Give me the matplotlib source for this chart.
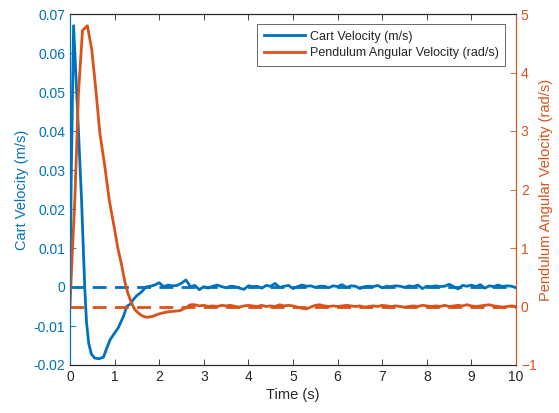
import numpy as np
import matplotlib
matplotlib.use("Agg")
import matplotlib.pyplot as plt

plt.rcParams["font.family"] = ["Liberation Sans", "DejaVu Sans"]

BLUE = "#0072BD"
ORANGE = "#D95319"
DARK = "#262626"

# --- cart velocity (m/s): transient, then sampled every 0.1 s from 1.8 s ---
cart_t_transient = [0.0, 0.03, 0.08, 0.17, 0.26, 0.33, 0.37, 0.42, 0.48, 0.55, 0.65,
                    0.75, 0.82, 0.9, 1.0, 1.08, 1.2, 1.27, 1.35, 1.42, 1.5, 1.6, 1.7]
cart_v_transient = [0.0, 0.03, 0.067, 0.045, 0.022, 0.0, -0.009, -0.0145, -0.0172, -0.0182,
                    -0.0184, -0.018, -0.0158, -0.0135, -0.0118, -0.0105, -0.0075, -0.005,
                    -0.0044, -0.0032, -0.0022, -0.0013, 0.0]
cart_noise_e3 = [0.2, 0.5, 1.1, 0.1, 0.5, 0.3, 0.4, 1.0, 1.8, 0.1, 0.4, -0.7, 0.1, -0.3,
                 0.2, 0.5, 0.1, -0.2, 0.2, 0.1, -0.3, -0.6, 0.3, 0.1, 0.2, -0.3, 0.4, 0.2,
                 0.9, -0.1, 0.2, 0.4, -0.4, 0.1, 0.5, 0.2, 0.3, -0.1, 0.2, 0.2, -0.2, 0.3,
                 0.1, 0.6, -0.1, 0.3, 0.2, -0.4, 0.1, 0.2, 0.1, 0.4, -0.2, 0.2, 0.1, 0.3,
                 0.2, -0.1, 0.3, 0.1, 0.5, -0.4, 0.2, 0.1, 0.3, 0.1, 0.2, 0.7, 0.1, -0.5,
                 0.4, 0.2, 0.5, 0.1, 0.6, -0.3, 0.3, 0.1, 0.5, 0.1, 0.3, 0.2, -0.2]

# --- pendulum angular velocity (rad/s): transient, then every 0.1 s from 2.8 s ---
pend_t_transient = [0.0, 0.05, 0.11, 0.19, 0.28, 0.39, 0.49, 0.58, 0.67, 0.78, 0.88, 0.98,
                    1.08, 1.16, 1.23, 1.3, 1.38, 1.45, 1.53, 1.62, 1.72, 1.85, 2.02, 2.2,
                    2.35, 2.47, 2.6, 2.7]
pend_w_transient = [0.0, 0.9, 1.85, 3.65, 4.72, 4.8, 4.38, 3.7, 2.96, 2.4, 1.82, 1.4, 0.97,
                    0.7, 0.42, 0.22, 0.06, -0.05, -0.11, -0.16, -0.185, -0.17, -0.12, -0.09,
                    -0.08, -0.07, -0.02, 0.03]
pend_noise_e2 = [3, 1, 2, 0, 1, 0, 2, 1, 2, 0, -1, 1, 2, 1, 0, 2, 0, 1, 0, 3, 1, 2, 1, -1,
                 -3, -4, -1, 2, 3, 1, 0, 1, 0, 1, 2, 1, 0, 1, -1, 0, 1, 0, 2, 1, 0, 1, 0,
                 -1, 0, 1, 0, 2, 1, 0, 1, 0, 2, 0, 1, 2, 1, 3, 1, 0, 1, 2, 3, 1, 0, -1, 0,
                 1, 0]

cart_t = np.concatenate([cart_t_transient, np.linspace(1.8, 10.0, len(cart_noise_e3))])
cart_v = np.concatenate([cart_v_transient, np.array(cart_noise_e3) * 1e-3])
pend_t = np.concatenate([pend_t_transient, np.linspace(2.8, 10.0, len(pend_noise_e2))])
pend_w = np.concatenate([pend_w_transient, np.array(pend_noise_e2) * 1e-2])

fig = plt.figure(figsize=(5.59, 4.13), dpi=100)
ax = fig.add_axes([70 / 559, 48 / 413, 446 / 559, 351 / 413])
ax2 = ax.twinx()

l1, = ax.plot(cart_t, cart_v, color=BLUE, lw=2, label="Cart Velocity (m/s)")
ax.plot([0, 10], [0, 0], color=BLUE, lw=2, ls=(0, (5, 3)))
l2, = ax2.plot(pend_t, pend_w, color=ORANGE, lw=2, label="Pendulum Angular Velocity (rad/s)")
ax2.plot([0, 10], [0, 0], color=ORANGE, lw=2, ls=(0, (5, 3)))

ax.set_xlim(0, 10)
ax.set_ylim(-0.02, 0.07)
ax2.set_ylim(-1, 5)
ax.set_xticks(range(0, 11))
ax.set_yticks(np.arange(-0.02, 0.0701, 0.01))
ax.set_yticklabels(["-0.02", "-0.01", "0", "0.01", "0.02", "0.03", "0.04", "0.05", "0.06", "0.07"])
ax2.set_yticks(range(-1, 6))

for a in (ax, ax2):
    a.tick_params(direction="in", length=4, width=0.6, labelsize=10)
ax.tick_params(axis="x", colors=DARK, top=True)
ax.tick_params(axis="y", colors=BLUE)
ax2.tick_params(axis="y", colors=ORANGE)

for a in (ax, ax2):
    a.spines["top"].set_color(DARK)
    a.spines["bottom"].set_color(DARK)
    a.spines["left"].set_color(BLUE)
    a.spines["right"].set_color(ORANGE)
    for s in a.spines.values():
        s.set_linewidth(0.8)

ax.set_xlabel("Time (s)", color=DARK, fontsize=10.5, labelpad=3)
ax.set_ylabel("Cart Velocity (m/s)", color=BLUE, fontsize=10.5, labelpad=3)
ax2.set_ylabel("Pendulum Angular Velocity (rad/s)", color=ORANGE, fontsize=10.5, labelpad=2)

leg = ax2.legend(handles=[l1, l2], loc="upper right", bbox_to_anchor=(0.976, 0.972),
                 borderaxespad=0, fontsize=9, frameon=True, fancybox=False,
                 handlelength=3.3, borderpad=0.55, labelspacing=0.35, handletextpad=0.35)
leg.get_frame().set_edgecolor(DARK)
leg.get_frame().set_linewidth(0.6)
for t in leg.get_texts():
    t.set_color(DARK)

fig.savefig("out.png", dpi=100)
